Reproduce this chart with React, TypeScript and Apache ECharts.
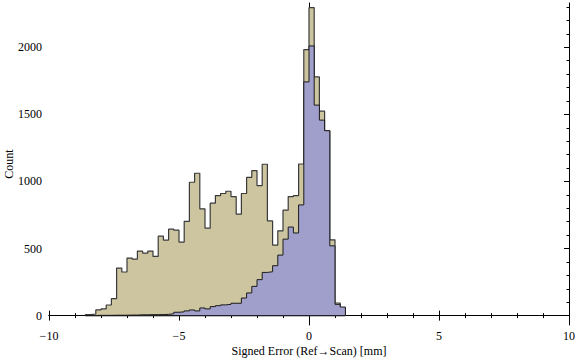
import React, { useEffect, useRef } from "react";
import * as echarts from "echarts";

// Histogram bins: 0.2 mm wide, first bin starts at -8.6 mm
const binStart = -8.6;
const binWidth = 0.2;

// Counts per bin (first dataset, tan)
const tanCounts = [
  8, 12, 42, 50, 79, 126, 354, 325, 429, 421,
  481, 466, 481, 441, 592, 563, 644, 637, 548, 703,
  994, 1061, 796, 652, 838, 895, 910, 927, 887, 756,
  910, 1031, 1081, 969, 1128, 706, 526, 632, 786, 887,
  895, 1130, 1983, 2295, 1779, 1524, 1378, 565, 94, 60,
];

// Counts per bin (second dataset, lavender)
const blueCounts = [
  1, 1, 2, 2, 2, 3, 3, 3, 4, 4,
  6, 6, 7, 7, 8, 9, 14, 25, 28, 35,
  42, 35, 57, 50, 67, 74, 80, 84, 92, 92,
  131, 169, 218, 268, 322, 327, 372, 451, 570, 660,
  616, 825, 1742, 2010, 1569, 1457, 1378, 520, 84, 64,
];

const xTickValues = [-10, -5, 0, 5, 10];
const yTickValues = [0, 500, 1000, 1500, 2000];
const yMinorValues = [
  0, 100, 200, 300, 400, 500, 600, 700, 800, 900, 1000, 1100,
  1200, 1300, 1400, 1500, 1600, 1700, 1800, 1900, 2000, 2100, 2200, 2300,
];

const FONT = "'Liberation Serif', 'DejaVu Serif', 'Times New Roman', serif";

function stepOutline(counts: number[]): number[][] {
  const edge = (i: number) => Math.round((binStart + i * binWidth) * 100) / 100;
  const pts: number[][] = [[edge(0), 0]];
  counts.forEach((c, i) => pts.push([edge(i), c]));
  pts.push([edge(counts.length), 0]);
  pts.push([edge(0), 0]);
  return pts;
}

export default function App() {
  const ref = useRef<HTMLDivElement>(null);

  useEffect(() => {
    if (!ref.current) return;
    const chart = echarts.init(ref.current, null, { renderer: "svg" });

    const yCommon = {
      type: "value" as const,
      min: -70,
      max: 2330,
      splitLine: { show: false },
    };

    const option: any = {
      animation: false,
      backgroundColor: "#ffffff",
      grid: {
        left: 49,
        right: 7,
        top: 3,
        bottom: 37,
        containLabel: false,
        outerBoundsMode: "none",
      },
      xAxis: [
        {
          type: "value",
          position: "bottom",
          min: -10,
          max: 10,
          interval: 5,
          axisLine: { show: true, lineStyle: { color: "#000", width: 1 } },
          axisTick: { show: true, inside: true, length: 5, lineStyle: { color: "#000" } },
          minorTick: { show: true, splitNumber: 5, length: 2.5, lineStyle: { color: "#000" } },
          splitLine: { show: false },
          minorSplitLine: { show: false },
          axisLabel: {
            show: true,
            margin: 5,
            color: "#000",
            fontFamily: FONT,
            fontSize: 12,
            customValues: xTickValues,
            formatter: (v: number) => String(v).replace("-", "\u2212"),
          },
          name: "Signed Error (Ref\u2192Scan) [mm]",
          nameLocation: "middle",
          nameGap: 20,
          nameMoveOverlap: false,
          nameTextStyle: { color: "#000", fontFamily: FONT, fontSize: 12 },
        },
        {
          type: "value",
          position: "top",
          min: -10,
          max: 10,
          interval: 5,
          axisLine: { show: true, lineStyle: { color: "#000", width: 1 } },
          axisTick: { show: true, inside: true, length: 5, lineStyle: { color: "#000" } },
          minorTick: { show: true, splitNumber: 5, length: 2.5, lineStyle: { color: "#000" } },
          splitLine: { show: false },
          axisLabel: { show: false },
        },
      ],
      yAxis: [
        {
          ...yCommon,
          position: "left",
          axisLine: { show: true, lineStyle: { color: "#000", width: 1 } },
          axisTick: {
            show: true,
            inside: true,
            length: 5,
            customValues: yTickValues,
            lineStyle: { color: "#000" },
          },
          axisLabel: {
            show: true,
            margin: 7,
            color: "#000",
            fontFamily: FONT,
            fontSize: 12,
            customValues: yTickValues,
            formatter: (v: number) => String(v),
          },
          name: "Count",
          nameLocation: "middle",
          nameGap: 34,
          nameRotate: 90,
          nameMoveOverlap: false,
          nameTextStyle: { color: "#000", fontFamily: FONT, fontSize: 12 },
        },
        {
          ...yCommon,
          position: "left",
          axisLine: { show: false },
          axisTick: {
            show: true,
            inside: true,
            length: 2.5,
            customValues: yMinorValues,
            lineStyle: { color: "#000" },
          },
          axisLabel: { show: false },
        },
        {
          ...yCommon,
          position: "right",
          axisLine: { show: true, lineStyle: { color: "#000", width: 1 } },
          axisTick: {
            show: true,
            inside: true,
            length: 5,
            customValues: yTickValues,
            lineStyle: { color: "#000" },
          },
          axisLabel: { show: false },
        },
        {
          ...yCommon,
          position: "right",
          axisLine: { show: false },
          axisTick: {
            show: true,
            inside: true,
            length: 2.5,
            customValues: yMinorValues,
            lineStyle: { color: "#000" },
          },
          axisLabel: { show: false },
        },
      ],
      series: [
        {
          name: "Ref",
          type: "line",
          xAxisIndex: 0,
          yAxisIndex: 0,
          step: "end",
          showSymbol: false,
          symbol: "none",
          data: stepOutline(tanCounts),
          lineStyle: { color: "#3a3a3a", width: 1.2 },
          areaStyle: { color: "#ccc5a0", opacity: 1 },
          z: 2,
        },
        {
          name: "Scan",
          type: "line",
          xAxisIndex: 0,
          yAxisIndex: 0,
          step: "end",
          showSymbol: false,
          symbol: "none",
          data: stepOutline(blueCounts),
          lineStyle: { color: "#1a1a1a", width: 1 },
          areaStyle: { color: "#a09fcc", opacity: 1 },
          z: 3,
        },
      ],
    };

    chart.setOption(option);
    return () => chart.dispose();
  }, []);

  return (
    <div
      ref={ref}
      style={{ position: "fixed", left: 0, top: 0, width: 576, height: 362, background: "#fff" }}
    />
  );
}
